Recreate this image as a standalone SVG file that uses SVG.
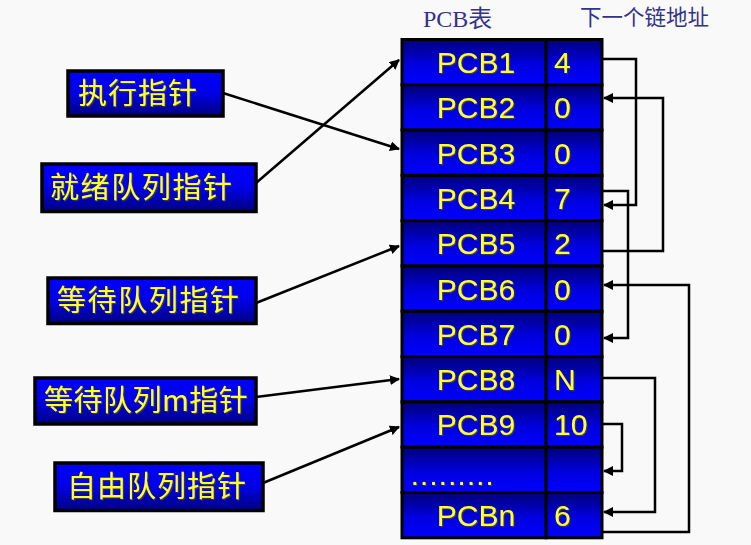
<svg xmlns="http://www.w3.org/2000/svg" width="751" height="545" viewBox="0 0 751 545">
<defs>
<linearGradient id="cellg" x1="0" y1="0" x2="0" y2="1">
<stop offset="0" stop-color="#000078"/>
<stop offset="0.55" stop-color="#0000e0"/>
<stop offset="1" stop-color="#0000ff"/>
</linearGradient>
<linearGradient id="boxg" x1="0" y1="0" x2="0" y2="1">
<stop offset="0" stop-color="#0000ff"/>
<stop offset="0.5" stop-color="#0000e6"/>
<stop offset="1" stop-color="#000080"/>
</linearGradient>
<filter id="sh" x="-10%" y="-10%" width="130%" height="140%">
<feDropShadow dx="1.2" dy="1.2" stdDeviation="0.4" flood-color="#404040" flood-opacity="0.9"/>
</filter>
<marker id="ah" viewBox="0 0 10 10" refX="9" refY="5" markerWidth="4" markerHeight="4" orient="auto" markerUnits="strokeWidth">
<path d="M0,0 L10,5 L0,10 z" fill="#000"/>
</marker>
<marker id="ahs" viewBox="0 0 10 10" refX="9" refY="5" markerWidth="4" markerHeight="4" orient="auto" markerUnits="strokeWidth">
<path d="M0,0 L10,5 L0,10 z" fill="#000"/>
</marker>
</defs>
<style>
.cell{fill:url(#cellg);stroke:#000;stroke-width:3}
.box{fill:url(#boxg);stroke:#000;stroke-width:3.5}
.pcb{font-family:"Liberation Sans",Arial,sans-serif;font-size:30px;fill:#ffff33;filter:url(#sh)}
.num{font-family:"Liberation Sans",Arial,sans-serif;font-size:30px;fill:#ffff33;filter:url(#sh)}
.dots{font-family:"Liberation Sans",Arial,sans-serif;font-size:20px;font-weight:bold;fill:#ffff33;letter-spacing:3.8px;filter:url(#sh)}
.lbl{font-family:"Noto Sans CJK SC",sans-serif;font-size:29px;fill:#ffff33;filter:url(#sh)}
.hdr1{font-family:"Liberation Serif","Noto Sans CJK SC",serif;font-size:24px;fill:#33338a}
.hdr2{font-family:"Noto Sans CJK SC",sans-serif;font-size:21.5px;fill:#33338a}
.ptr{fill:none;stroke:#000;stroke-width:2.5;marker-end:url(#ah)}
.lnk{fill:none;stroke:#000;stroke-width:2.5;marker-end:url(#ahs)}
</style>
<rect x="0" y="0" width="751" height="545" fill="#f9f9f9"/>

<text class="hdr1" x="423" y="27">PCB表</text>
<text class="hdr2" x="580" y="25">下一个链地址</text>

<g id="table">
<g id="row1"><rect class="cell" x="402" y="39.5" width="144" height="45.3"/><rect class="cell" x="546" y="39.5" width="56" height="45.3"/><text class="pcb" x="476" y="73" text-anchor="middle">PCB1</text><text class="num" x="554" y="73">4</text></g>
<g id="row2"><rect class="cell" x="402" y="84.8" width="144" height="45.3"/><rect class="cell" x="546" y="84.8" width="56" height="45.3"/><text class="pcb" x="476" y="118.3" text-anchor="middle">PCB2</text><text class="num" x="554" y="118.3">0</text></g>
<g id="row3"><rect class="cell" x="402" y="130.1" width="144" height="45.3"/><rect class="cell" x="546" y="130.1" width="56" height="45.3"/><text class="pcb" x="476" y="163.6" text-anchor="middle">PCB3</text><text class="num" x="554" y="163.6">0</text></g>
<g id="row4"><rect class="cell" x="402" y="175.4" width="144" height="45.3"/><rect class="cell" x="546" y="175.4" width="56" height="45.3"/><text class="pcb" x="476" y="208.9" text-anchor="middle">PCB4</text><text class="num" x="554" y="208.9">7</text></g>
<g id="row5"><rect class="cell" x="402" y="220.7" width="144" height="45.3"/><rect class="cell" x="546" y="220.7" width="56" height="45.3"/><text class="pcb" x="476" y="254.2" text-anchor="middle">PCB5</text><text class="num" x="554" y="254.2">2</text></g>
<g id="row6"><rect class="cell" x="402" y="266" width="144" height="45.3"/><rect class="cell" x="546" y="266" width="56" height="45.3"/><text class="pcb" x="476" y="299.5" text-anchor="middle">PCB6</text><text class="num" x="554" y="299.5">0</text></g>
<g id="row7"><rect class="cell" x="402" y="311.3" width="144" height="45.3"/><rect class="cell" x="546" y="311.3" width="56" height="45.3"/><text class="pcb" x="476" y="344.8" text-anchor="middle">PCB7</text><text class="num" x="554" y="344.8">0</text></g>
<g id="row8"><rect class="cell" x="402" y="356.6" width="144" height="45.3"/><rect class="cell" x="546" y="356.6" width="56" height="45.3"/><text class="pcb" x="476" y="390.1" text-anchor="middle">PCB8</text><text class="num" x="554" y="390.1">N</text></g>
<g id="row9"><rect class="cell" x="402" y="401.9" width="144" height="45.3"/><rect class="cell" x="546" y="401.9" width="56" height="45.3"/><text class="pcb" x="476" y="435.4" text-anchor="middle">PCB9</text><text class="num" x="554" y="435.4">10</text></g>
<g id="row10"><rect class="cell" x="402" y="447.2" width="144" height="45.3"/><rect class="cell" x="546" y="447.2" width="56" height="45.3"/><text class="dots" x="412" y="485">.........</text></g>
<g id="rown"><rect class="cell" x="402" y="492.5" width="144" height="45.3"/><rect class="cell" x="546" y="492.5" width="56" height="45.3"/><text class="pcb" x="476" y="526" text-anchor="middle">PCBn</text><text class="num" x="554" y="526">6</text></g>
</g>

<g id="exec"><rect class="box" x="68" y="71" width="155" height="45"/><text class="lbl" x="78" y="104" letter-spacing="1">执行指针</text></g>
<g id="ready"><rect class="box" x="42" y="164" width="214" height="47.5"/><text class="lbl" x="50" y="198" letter-spacing="1.6">就绪队列指针</text></g>
<g id="wait"><rect class="box" x="48" y="278" width="208" height="45.5"/><text class="lbl" x="57" y="311" letter-spacing="1.6">等待队列指针</text></g>
<g id="waitm"><rect class="box" x="35" y="378" width="221" height="46"/><text class="lbl" x="44" y="411" letter-spacing="0.5">等待队列m指针</text></g>
<g id="free"><rect class="box" x="55" y="463" width="208" height="47.5"/><text class="lbl" x="67" y="497" letter-spacing="1">自由队列指针</text></g>

<g id="connectors">
<line class="ptr" x1="223" y1="93" x2="399" y2="149"/>
<line class="ptr" x1="256" y1="183" x2="399" y2="60"/>
<line class="ptr" x1="256" y1="303" x2="399" y2="246"/>
<line class="ptr" x1="256" y1="397" x2="399" y2="379"/>
<line class="ptr" x1="263" y1="483" x2="399" y2="427"/>

<polyline class="lnk" points="603,59 636,59 636,205 604,205"/>
<polyline class="lnk" points="603,251 663,251 663,98 604,98"/>
<polyline class="lnk" points="603,191 628,191 628,338 604,338"/>
<polyline class="lnk" points="603,378 655,378 655,512 604,512"/>
<polyline class="lnk" points="603,424 622,424 622,471 604,471"/>
<polyline class="lnk" points="603,532 689,532 689,285 604,285"/>
</g>
</svg>
